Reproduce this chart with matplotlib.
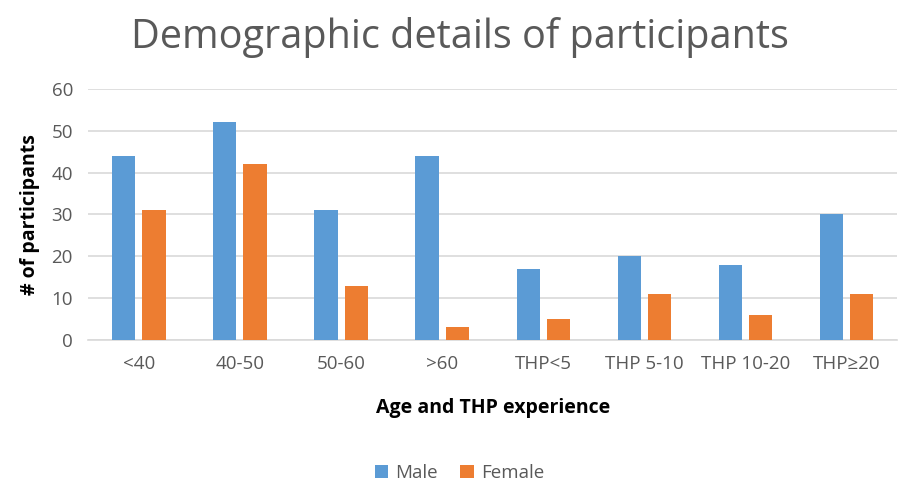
import numpy as np
import matplotlib
matplotlib.use('Agg')
import matplotlib.pyplot as plt

categories = ['<40', '40-50', '50-60', '>60', 'THP<5', 'THP 5-10', 'THP 10-20', 'THP≥20']
male = [44, 52, 31, 44, 17, 20, 18, 30]
female = [31, 42, 13, 3, 5, 11, 6, 11]

plt.rcParams['font.family'] = ['Open Sans', 'DejaVu Sans']

fig = plt.figure(figsize=(9.1, 4.83), dpi=100)
ax = fig.add_axes([0.097, 0.296, 0.889, 0.52])

x = np.arange(len(categories))
w = 0.23
gap = 0.035
ax.bar(x - w / 2 - gap, male, w, color='#5b9bd5', label='Male', zorder=3)
ax.bar(x + w / 2 + gap, female, w, color='#ed7d31', label='Female', zorder=3)

ax.set_xlim(-0.5, len(categories) - 0.5)
ax.set_ylim(0, 60)
ax.set_yticks(range(0, 61, 10))
ax.set_xticks(x)
ax.set_xticklabels(categories)
ax.grid(axis='y', color='#d9d9d9', linewidth=1.2, zorder=0)
for s in ['top', 'right', 'left']:
    ax.spines[s].set_visible(False)
ax.spines['bottom'].set_color('#d9d9d9')
ax.spines['bottom'].set_linewidth(1.2)
ax.tick_params(axis='both', length=0, labelsize=13.5, colors='#595959', pad=11)

ax.set_xlabel('Age and THP experience', fontsize=14, fontweight='bold', labelpad=18)
ax.set_ylabel('# of participants', fontsize=14, fontweight='bold', labelpad=8)

fig.text(0.505, 0.922, 'Demographic details of participants', ha='center', va='center',
         fontsize=28.5, color='#595959')

fig.legend(loc='center', bbox_to_anchor=(0.505, 0.02), ncol=2, frameon=False,
           fontsize=13.5, handlelength=0.7, handleheight=0.7, columnspacing=1.2,
           handletextpad=0.4, labelcolor='#595959')

fig.savefig('out.png', dpi=100)
